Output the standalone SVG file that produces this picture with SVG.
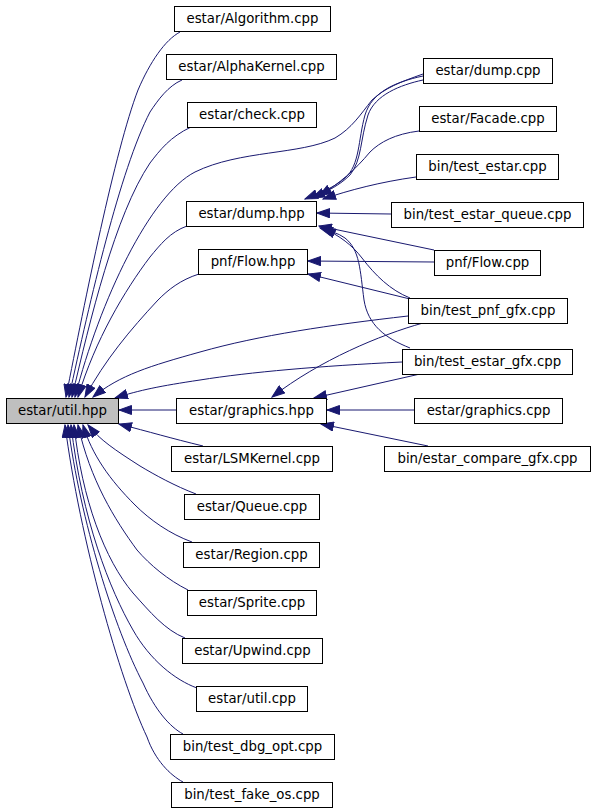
<svg xmlns="http://www.w3.org/2000/svg" width="595" height="811" viewBox="0 0 595 811">
<style>
.n rect{fill:#fff;stroke:#000;stroke-width:1}
.n text{font-family:"DejaVu Sans",sans-serif;font-size:13.3px;fill:#000;text-anchor:middle}
#util_hpp rect{fill:#bfbfbf}
.e path{fill:none;stroke:#191970;stroke-width:1;marker-end:url(#ah)}
</style>
<defs>
<marker id="ah" markerUnits="userSpaceOnUse" markerWidth="14" markerHeight="10" refX="13" refY="5" orient="auto" viewBox="0 0 14 10">
<path d="M0.5,0.5 L13,5 L0.5,9.5 z" fill="#191970" stroke="#191970" stroke-width="1"/>
</marker>
</defs>
<rect width="595" height="811" fill="#fff"/>
<g class="e" id="edges">
<path d="M180,32 C165,40 150,62 138,90 C115,150 85,300 66,397"/>
<path d="M182,80 C168,86 158,100 150,112 C120,170 90,300 69,397"/>
<path d="M191,127 C170,137 160,150 150,163 C115,215 90,320 72,397"/>
<path d="M423,74 C400,82 385,88 372,100 C360,115 352,128 335,138 C300,155 240,150 195,172 C150,195 100,300 75,397"/>
<path d="M187,226 C170,232 160,245 150,257 C125,290 95,340 78,397"/>
<path d="M199,274 C180,280 168,290 158,300 C130,330 105,360 85,397"/>
<path d="M408,316 C330,325 260,335 200,352 C150,366 120,375 93,397"/>
<path d="M402,362 C320,366 250,372 200,380 C160,386 140,390 115,398"/>
<path d="M176,410 L119,410"/>
<path d="M203,446 C170,438 150,432 119,424"/>
<path d="M196,494 C175,486 155,475 140,466 C115,450 100,440 88,425"/>
<path d="M192,542 C170,534 150,520 135,505 C110,480 92,455 83,425"/>
<path d="M188,590 C168,580 150,565 137,550 C115,520 90,480 78,425"/>
<path d="M185,638 C165,630 150,612 133,593 C105,560 82,500 74,425"/>
<path d="M197,688 C175,680 150,660 133,630 C110,590 82,520 71,425"/>
<path d="M183,734 C170,727 155,710 143,683 C115,630 80,520 68,425"/>
<path d="M183,782 C170,775 155,760 147,737 C120,680 80,540 65,425"/>
<path d="M423,76 C395,82 372,92 365,115 C358,140 360,165 345,178 C335,187 320,193 305,199"/>
<path d="M423,80 C400,85 375,95 368,115 C360,140 362,160 350,175 C340,185 328,191 312,198"/>
<path d="M419,131 C395,134 380,142 370,152 C355,170 340,183 319,196"/>
<path d="M416,177 C380,182 350,190 323,199"/>
<path d="M391,214 L317,213"/>
<path d="M434,250 L319,226"/>
<path d="M410,298 C390,290 375,275 362,258 C352,245 340,236 323,228"/>
<path d="M410,348 C385,338 368,325 364,300 C360,270 360,250 345,238 C338,233 330,231 320,228"/>
<path d="M434,262 L308,261"/>
<path d="M410,299 L308,274"/>
<path d="M423,323 C380,335 320,360 272,397"/>
<path d="M420,374 L314,398"/>
<path d="M414,410 L327,410"/>
<path d="M428,446 L321,424"/>
</g>
<g class="n" id="estar_Algorithm_cpp"><rect x="174.5" y="6.5" width="156" height="25"/><text x="252.5" y="23">estar/Algorithm.cpp</text></g>
<g class="n" id="estar_AlphaKernel_cpp"><rect x="166.5" y="54.5" width="170" height="25"/><text x="251.5" y="71">estar/AlphaKernel.cpp</text></g>
<g class="n" id="estar_check_cpp"><rect x="187.5" y="102.5" width="129" height="25"/><text x="252" y="119">estar/check.cpp</text></g>
<g class="n" id="estar_dump_cpp"><rect x="423.5" y="58.5" width="129" height="25"/><text x="488" y="75">estar/dump.cpp</text></g>
<g class="n" id="estar_Facade_cpp"><rect x="419.5" y="106.5" width="137" height="25"/><text x="488" y="123">estar/Facade.cpp</text></g>
<g class="n" id="bin_test_estar_cpp"><rect x="416.5" y="154.5" width="142" height="25"/><text x="487.5" y="171">bin/test_estar.cpp</text></g>
<g class="n" id="bin_test_estar_queue_cpp"><rect x="391.5" y="202.5" width="192" height="25"/><text x="487.5" y="219">bin/test_estar_queue.cpp</text></g>
<g class="n" id="estar_dump_hpp"><rect x="186.5" y="201.5" width="130" height="25"/><text x="251.5" y="218">estar/dump.hpp</text></g>
<g class="n" id="pnf_Flow_hpp"><rect x="198.5" y="249.5" width="109" height="25"/><text x="253" y="266">pnf/Flow.hpp</text></g>
<g class="n" id="pnf_Flow_cpp"><rect x="434.5" y="250.5" width="106" height="25"/><text x="487.5" y="267">pnf/Flow.cpp</text></g>
<g class="n" id="bin_test_pnf_gfx_cpp"><rect x="408.5" y="298.5" width="159" height="25"/><text x="488" y="315">bin/test_pnf_gfx.cpp</text></g>
<g class="n" id="bin_test_estar_gfx_cpp"><rect x="402.5" y="349.5" width="170" height="25"/><text x="487.5" y="366">bin/test_estar_gfx.cpp</text></g>
<g class="n" id="util_hpp"><rect x="6.5" y="398.5" width="112" height="25"/><text x="62.5" y="415">estar/util.hpp</text></g>
<g class="n" id="estar_graphics_hpp"><rect x="176.5" y="398.5" width="150" height="25"/><text x="251.5" y="415">estar/graphics.hpp</text></g>
<g class="n" id="estar_graphics_cpp"><rect x="414.5" y="398.5" width="148" height="25"/><text x="488.5" y="415">estar/graphics.cpp</text></g>
<g class="n" id="estar_LSMKernel_cpp"><rect x="171.5" y="446.5" width="161" height="25"/><text x="252" y="463">estar/LSMKernel.cpp</text></g>
<g class="n" id="bin_estar_compare_gfx_cpp"><rect x="384.5" y="446.5" width="206" height="25"/><text x="487.5" y="463">bin/estar_compare_gfx.cpp</text></g>
<g class="n" id="estar_Queue_cpp"><rect x="184.5" y="494.5" width="135" height="25"/><text x="252" y="511">estar/Queue.cpp</text></g>
<g class="n" id="estar_Region_cpp"><rect x="183.5" y="542.5" width="136" height="25"/><text x="251.5" y="559">estar/Region.cpp</text></g>
<g class="n" id="estar_Sprite_cpp"><rect x="187.5" y="590.5" width="129" height="25"/><text x="252" y="607">estar/Sprite.cpp</text></g>
<g class="n" id="estar_Upwind_cpp"><rect x="182.5" y="638.5" width="140" height="25"/><text x="252.5" y="655">estar/Upwind.cpp</text></g>
<g class="n" id="estar_util_cpp"><rect x="196.5" y="686.5" width="111" height="25"/><text x="252" y="703">estar/util.cpp</text></g>
<g class="n" id="bin_test_dbg_opt_cpp"><rect x="170.5" y="734.5" width="164" height="25"/><text x="252.5" y="751">bin/test_dbg_opt.cpp</text></g>
<g class="n" id="bin_test_fake_os_cpp"><rect x="171.5" y="782.5" width="161" height="25"/><text x="252" y="799">bin/test_fake_os.cpp</text></g>
</svg>
